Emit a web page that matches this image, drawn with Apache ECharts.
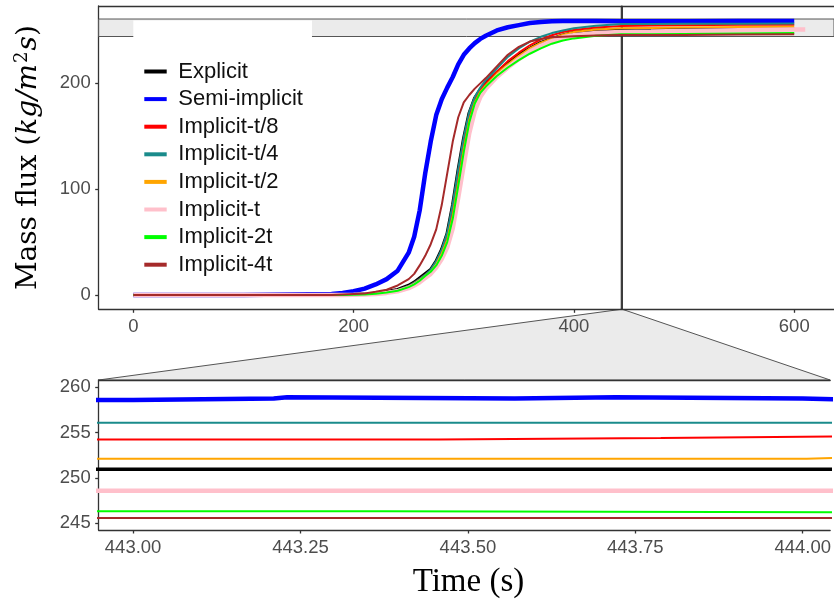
<!DOCTYPE html>
<html><head><meta charset="utf-8">
<script src="https://cdn.jsdelivr.net/npm/echarts@6/dist/echarts.min.js"></script>
<style>html,body{margin:0;padding:0;background:#fff}#c{width:834px;height:600px}</style>
</head><body><div id="c"></div>
<script>
const SERIES_NAMES = ['Explicit','Semi-implicit','Implicit-t/8','Implicit-t/4','Implicit-t/2','Implicit-t','Implicit-2t','Implicit-4t'];
const COLORS = ['#000000','#0000ff','#ff0000','#1a8b8b','#ffa500','#ffc0cb','#00ff00','#a52a2a'];
const WIDTHS = [3.5,4.5,2,2,2,4.5,2,2];

// Full-run time samples (s)
const TIME = [0,100,180,190,200,210,220,230,240,250,255,260,265,270,275,280,285,290,295,300,305,310,315,320,330,340,350,360,370,380,390,400,420,443,470,500,550,600,610];
const explicitFlux = [0,0,0,0.2,0.5,1,1.5,3,5,9,12,16,20,24,32,43,58,85,118,148,172,186,194,200,210,219,227,233,238.5,242,245.5,248,250.3,251,251,251.1,251.2,251.3,null];
const semiImplicitFlux = [0,0,1,2,3.5,6,10,15,23,40,55,80,115,145,170,185,196,206,218,227,233,238,242,245,250,253,255,257,258,258.6,259,259,259,258.7,258.8,258.8,258.9,258.9,null];
const implicitT8Flux = [0,0,0,0.2,0.4,0.8,1.4,2.8,4.8,8.5,11.5,15,19,23,31,42,57,83,116,146,171,186,194,200,211,221,229,236,241.5,245.5,248.5,250.5,252.8,254.3,254.7,255,255.3,255.5,null];
const implicitT4Flux = [0,0,0,0.2,0.4,0.8,1.4,2.8,4.8,8.5,11.5,15,19,24,32,43,59,86,119,149,173,187,196,203,214,225,233,239.5,244,247.5,250,252,254.5,256.1,256.2,256.3,256.4,256.5,null];
const implicitT2Flux = [0,0,0,0.1,0.3,0.7,1.2,2.5,4.3,7.8,10.5,14,18,22,29,39,52,75,106,138,165,182,192,198,209,218,226,233,238.5,242.5,246,248.5,250.8,252.1,252.4,252.7,253.2,253.5,null];
const implicitTFlux = [0,0,0,0.1,0.2,0.5,1,2,3.5,6.5,9,12,16,20,26,34,45,63,92,123,153,174,187,195,206,215,223,230,235.5,240,243.5,245.5,247.5,248.6,249,249.5,250.3,251,251];
const implicit2TFlux = [0,0,0,0.1,0.3,0.6,1.2,2.4,4,7.5,10,13.5,18,22,28,37,50,72,103,135,163,181,191,197,207,215,222,228,233,237.5,240.5,242.5,245,246.3,246.4,246.6,247,247.5,null];
const implicit4TFlux = [0,0,0,0.5,1,1.5,3,5,9,15,20,28,37,48,62,85,115,145,168,182,189,195,200,205,216,227,234.5,239.5,242,243.5,244,244.5,245.3,245.6,245.7,245.8,246.2,246.5,null];

// Zoomed window (t, flux) vertices, steps included
const zoomExplicit = [[442.9,250.96],[444.1,250.96]];
const zoomSemiImplicit = [[442.9,258.6],[443.0,258.6],[443.0,258.75],[443.21,258.75],[443.21,258.9],[443.23,258.9],[443.23,258.75],[443.57,258.75],[443.57,258.9],[443.72,258.9],[443.72,258.75],[444.0,258.75],[444.0,258.6],[444.1,258.6]];
const zoomT8 = [[442.9,254.25],[443.456,254.25],[443.456,254.4],[443.788,254.4],[443.788,254.6],[444.1,254.6]];
const zoomT4 = [[442.9,256.1],[444.1,256.1]];
const zoomT2 = [[442.9,252.13],[444.006,252.13],[444.006,252.3],[444.1,252.3]];
const zoomT = [[442.9,248.6],[444.1,248.6]];
const zoom2T = [[442.9,246.35],[443.374,246.35],[443.374,246.22],[444.1,246.22]];
const zoom4T = [[442.9,245.58],[444.1,245.58]];

const topXTicks = [0,200,400,600];
const topYTicks = [0,100,200];
const zoomXTicks = [443,443.25,443.5,443.75,444];
const zoomYTicks = [245,250,255,260];
const TOP_X = [-31.4, 636.1];
const TOP_Y = [-13.5, 273.1];
const ZOOM_X = [442.9486, 444.041];
const ZOOM_Y = [244.27, 260.8];

const topData = [explicitFlux, semiImplicitFlux, implicitT8Flux, implicitT4Flux, implicitT2Flux, implicitTFlux, implicit2TFlux, implicit4TFlux];
const zoomData = [zoomExplicit, zoomSemiImplicit, zoomT8, zoomT4, zoomT2, zoomT, zoom2T, zoom4T];

const tickFont = {color:'#4d4d4d', fontSize:18.5, fontFamily:'Liberation Sans'};
const frame = {color:'#333', width:1.3};

function axis(grid, range, ticks, fmt, extra){
  return Object.assign({
    gridIndex:grid, type:'value', min:range[0], max:range[1],
    axisLine:{show:true, onZero:false, lineStyle:frame}, splitLine:{show:false},
    axisTick:{show:true, length:3.5, lineStyle:frame, customValues:ticks},
    axisLabel:Object.assign({customValues:ticks, margin:8, formatter:fmt, hideOverlap:false}, tickFont)
  }, extra||{});
}
function topEdge(grid, range){
  return {gridIndex:grid, type:'value', position:'top', min:range[0], max:range[1],
    axisLine:{show:true, onZero:false, lineStyle:frame}, axisTick:{show:false},
    axisLabel:{show:false}, splitLine:{show:false}};
}

const series = [];
series.push({type:'line', xAxisIndex:0, yAxisIndex:0, data:[], silent:true, z:1,
  markArea:{silent:true, itemStyle:{color:'#ebebeb', borderColor:'#555', borderWidth:1},
    data:[[{coord:[TOP_X[0], ZOOM_Y[0]]},{coord:[TOP_X[1], ZOOM_Y[1]]}]]}});
SERIES_NAMES.forEach((n,i)=>{
  series.push({name:n, type:'line', xAxisIndex:0, yAxisIndex:0, showSymbol:false, symbol:'none',
    data:TIME.map((t,j)=>[t, topData[i][j]]), z:2,
    lineStyle:{color:COLORS[i], width:WIDTHS[i]}, itemStyle:{color:COLORS[i]}});
});
series.push({type:'line', xAxisIndex:0, yAxisIndex:0, data:[], silent:true, z:3,
  markArea:{silent:true, itemStyle:{color:'#333', borderColor:'#333', borderWidth:1},
    data:[[{coord:[ZOOM_X[0], TOP_Y[0]]},{coord:[ZOOM_X[1], TOP_Y[1]]}]]}});
SERIES_NAMES.forEach((n,i)=>{
  series.push({name:n, type:'line', xAxisIndex:1, yAxisIndex:1, showSymbol:false, symbol:'none',
    data:zoomData[i], z:2,
    lineStyle:{color:COLORS[i], width:WIDTHS[i]}, itemStyle:{color:COLORS[i]}});
});

const chart = echarts.init(document.getElementById('c'), null, {renderer:'canvas'});
chart.setOption({
  animation:false,
  backgroundColor:'#fff',
  grid:[
    {left:98.7, top:6, right:0, height:303.3},
    {left:98.7, top:380, right:0, height:150.7}
  ],
  xAxis:[
    axis(0, TOP_X, topXTicks, v=>String(v)),
    axis(1, ZOOM_X, zoomXTicks, v=>v.toFixed(2), {name:'Time (s)', nameLocation:'middle', nameGap:36,
      nameTextStyle:{fontFamily:'Liberation Serif', fontSize:33, color:'#000', padding:[0,0,0,8]}}),
    topEdge(0, TOP_X),
    topEdge(1, ZOOM_X)
  ],
  yAxis:[
    axis(0, TOP_Y, topYTicks, v=>String(v), {
      name:'{n|Mass flux (}{i|kg/m}{s|2}{i|s}{n|)}', nameLocation:'middle', nameRotate:90, nameGap:55,
      nameTextStyle:{fontFamily:'DejaVu Serif', fontSize:29, color:'#000',
        rich:{n:{fontFamily:'DejaVu Serif', fontSize:28, color:'#000'},
              i:{fontFamily:'DejaVu Serif', fontStyle:'italic', fontSize:28, color:'#000'},
              s:{fontFamily:'DejaVu Serif', fontSize:18, color:'#000', verticalAlign:'top', padding:[0,1,12,1]}}}}),
    axis(1, ZOOM_Y, zoomYTicks, v=>String(v))
  ],
  legend:{data:SERIES_NAMES, orient:'vertical', left:133.3, top:20.5, padding:[40,9,10,11],
    itemGap:5.6, itemWidth:22.4, itemHeight:4, icon:'rect', backgroundColor:'#fff', selectedMode:false,
    textStyle:{fontFamily:'Liberation Sans', fontSize:22, color:'#111', padding:[0,0,0,6.6]}},
  series:series
});

const p1 = chart.convertToPixel({xAxisIndex:0, yAxisIndex:0}, [ZOOM_X[0], TOP_Y[0]]);
const p2 = chart.convertToPixel({xAxisIndex:0, yAxisIndex:0}, [ZOOM_X[1], TOP_Y[0]]);
const p3 = chart.convertToPixel({xAxisIndex:1, yAxisIndex:1}, [ZOOM_X[1], ZOOM_Y[1]]);
const p4 = chart.convertToPixel({xAxisIndex:1, yAxisIndex:1}, [ZOOM_X[0], ZOOM_Y[1]]);
chart.setOption({graphic:[{type:'polygon', z:0, silent:true,
  shape:{points:[p1,p2,p3,p4]}, style:{fill:'#ebebeb', stroke:'#555', lineWidth:1}}]});
</script></body></html>
